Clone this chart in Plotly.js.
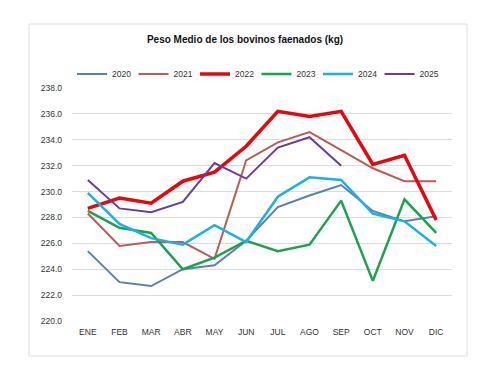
<!DOCTYPE html>
<html><head><meta charset="utf-8">
<script src="https://cdn.plot.ly/plotly-3.0.1.min.js"></script>
<style>html,body{margin:0;padding:0;background:#fff}#c{width:490px;height:374px}</style>
</head><body><div id="c"></div>
<script>
const months = ["ENE","FEB","MAR","ABR","MAY","JUN","JUL","AGO","SEP","OCT","NOV","DIC"];
const y2020 = [225.4,223.0,222.7,224.0,224.3,226.2,228.8,229.7,230.5,228.5,227.7,228.1];
const y2021 = [228.3,225.8,226.1,226.1,224.8,232.4,233.8,234.6,233.2,231.8,230.8,230.8];
const y2022 = [228.7,229.5,229.1,230.8,231.5,233.5,236.2,235.8,236.2,232.1,232.8,227.8];
const y2023 = [228.5,227.2,226.8,224.0,224.9,226.2,225.4,225.9,229.3,223.1,229.4,226.8];
const y2024 = [229.9,227.5,226.4,225.9,227.4,226.1,229.6,231.1,230.9,228.3,227.7,225.8];
const y2025 = [230.9,228.7,228.4,229.2,232.2,231.0,233.4,234.2,232.0];
const yTicks = [220,222,224,226,228,230,232,234,236,238];

const series = [
  {name:"2020", y:y2020, color:"#5b7fb4", w:2},
  {name:"2021", y:y2021, color:"#b75e58", w:2},
  {name:"2022", y:y2022, color:"#e8050b", w:3.5},
  {name:"2023", y:y2023, color:"#1aa24c", w:2.5},
  {name:"2024", y:y2024, color:"#1cb1e2", w:2.5},
  {name:"2025", y:y2025, color:"#6b3d9b", w:2}
];
const traces = series.map(s => ({
  type:"scatter", mode:"lines", name:s.name,
  x: months.slice(0, s.y.length), y: s.y,
  line:{color:s.color, width:s.w}
}));

const layout = {
  width:490, height:374,
  margin:{l:72, r:38, t:88, b:53},
  paper_bgcolor:"#fff", plot_bgcolor:"#fff",
  font:{family:"Liberation Sans, Arial, sans-serif", size:8, color:"#333"},
  title:{text:"<b>Peso Medio de los bovinos faenados (kg)</b>", x:0.5, xanchor:"center", y:1-39/374, yanchor:"middle",
         font:{size:10, color:"#111"}},
  showlegend:true,
  legend:{orientation:"h", x:0.0, xanchor:"left", y:(321-74)/233, yanchor:"middle",
          entrywidth:16.5, entrywidthmode:"pixels", itemwidth:30, font:{size:8.5, color:"#333"},
          bgcolor:"rgba(0,0,0,0)", traceorder:"normal"},
  xaxis:{type:"category", categoryorder:"array", categoryarray:months, range:[-0.5,11.5],
         showgrid:false, zeroline:false, showline:false, ticks:"", ticklabelstandoff:4,
         tickfont:{size:8.5, color:"#333"}, fixedrange:true},
  yaxis:{range:[220,238], tickvals:yTicks, ticktext:yTicks.map(v=>v.toFixed(1)),
         showgrid:true, gridcolor:"#dcdcdc", gridwidth:1, zeroline:false, showline:false, ticks:"",
         ticklabelstandoff:9, tickfont:{size:8.5, color:"#333"}, fixedrange:true},
  shapes:[{type:"rect", xref:"paper", yref:"paper",
           x0:(29-72)/380, x1:(467-72)/380, y0:(321-356)/233, y1:(321-24)/233,
           line:{color:"#dedede", width:1}, fillcolor:"rgba(0,0,0,0)", layer:"below"}]
};
Plotly.newPlot("c", traces, layout, {displayModeBar:false, staticPlot:true});
</script></body></html>
